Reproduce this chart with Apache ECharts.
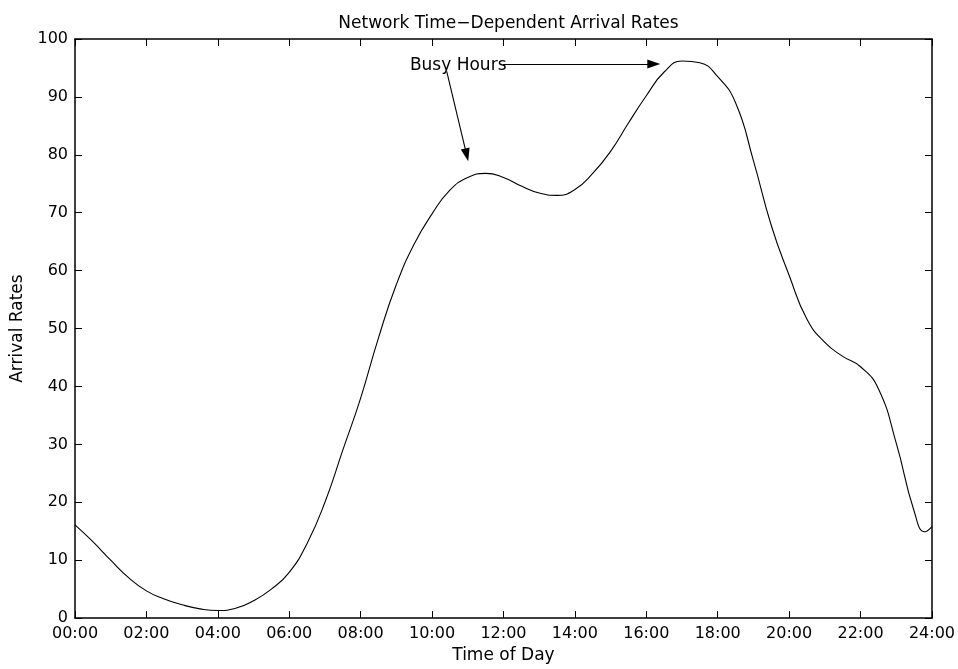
<!DOCTYPE html>
<html>
<head>
<meta charset="utf-8">
<title>Network Time-Dependent Arrival Rates</title>
<script src="https://cdn.jsdelivr.net/npm/echarts@6/dist/echarts.min.js"></script>
<style>
  html, body { margin: 0; padding: 0; background: #fff; }
  #chart { width: 958px; height: 669px; }
</style>
</head>
<body>
<div id="chart"></div>
<script>
// Hour of day (0-24) and the arrival rate observed at that hour
const hours = [0, 0.5, 1, 1.5, 2, 2.5, 3, 3.5, 4, 4.5, 5, 5.5, 6, 6.5, 7, 7.5, 8, 8.5,
  9, 9.5, 10, 10.5, 11, 11.5, 12, 12.5, 13, 13.5, 14, 14.5, 15, 15.5, 16, 16.5, 17,
  17.5, 18, 18.5, 19, 19.5, 20, 20.5, 21, 21.5, 22, 22.5, 23, 23.5, 23.8, 24];
const rates = [16.1, 13.2, 10.0, 7.0, 4.7, 3.3, 2.3, 1.6, 1.3, 1.7, 3.0, 5.0, 7.9, 12.9,
  20.0, 29.0, 38.0, 48.4, 57.6, 64.6, 69.8, 73.9, 76.1, 76.8, 76.1, 74.6, 73.4, 73.0,
  74.0, 76.8, 80.6, 85.5, 90.2, 94.3, 96.2, 95.9, 93.5, 89.0, 79.0, 67.8, 59.2, 51.6,
  47.6, 45.2, 43.4, 39.6, 30.2, 18.5, 14.9, 15.8];

// Tick labels along the time axis
const timeTicks = ['00:00', '02:00', '04:00', '06:00', '08:00', '10:00', '12:00',
  '14:00', '16:00', '18:00', '20:00', '22:00', '24:00'];

// "Busy Hours" note and the two arrows pointing at the peaks (in data units);
// each arrow ends at the centre of its arrowhead
const noteText = 'Busy Hours';
const notePoint = [9.38, 95.4];
const arrowToEvening = [[11.99, 95.7], [16.21, 95.7]];
const arrowToMidday = [[10.41, 94.4], [10.97, 80.0]];

const FONT = 'DejaVu Sans';
const chart = echarts.init(document.getElementById('chart'), null, { renderer: 'canvas' });

function frameLine() {
  return { show: true, onZero: false, lineStyle: { color: '#000', width: 1.5 } };
}
function innerTicks() {
  return { show: true, inside: true, length: 7, lineStyle: { color: '#000', width: 1 } };
}

chart.setOption({
  animation: false,
  backgroundColor: '#fff',
  title: {
    text: 'Network Time\u2212Dependent Arrival Rates',
    left: 503.5,
    textAlign: 'center',
    top: 10,
    textStyle: { fontFamily: FONT, fontSize: 17, fontWeight: 'normal', color: '#000' }
  },
  grid: { left: 75, right: 26, top: 39, bottom: 43, containLabel: false },
  xAxis: [
    {
      type: 'value', min: 0, max: 24, interval: 2, position: 'bottom',
      name: 'Time of Day', nameLocation: 'middle', nameGap: 28,
      nameTextStyle: { fontFamily: FONT, fontSize: 17, color: '#000' },
      axisLine: frameLine(), axisTick: innerTicks(), splitLine: { show: false },
      axisLabel: {
        fontFamily: FONT, fontSize: 16, color: '#000', margin: 8,
        formatter: v => timeTicks[Math.round(v / 2)]
      }
    },
    {
      type: 'value', min: 0, max: 24, interval: 2, position: 'top',
      axisLine: frameLine(), axisTick: innerTicks(), axisLabel: { show: false },
      splitLine: { show: false }
    }
  ],
  yAxis: [
    {
      type: 'value', min: 0, max: 100, interval: 10, position: 'left',
      name: 'Arrival Rates', nameLocation: 'middle', nameGap: 46, nameRotate: 90,
      nameTextStyle: { fontFamily: FONT, fontSize: 17, color: '#000' },
      axisLine: frameLine(), axisTick: innerTicks(), splitLine: { show: false },
      axisLabel: { fontFamily: FONT, fontSize: 16, color: '#000', margin: 7 }
    },
    {
      type: 'value', min: 0, max: 100, interval: 10, position: 'right',
      axisLine: frameLine(), axisTick: innerTicks(), axisLabel: { show: false },
      splitLine: { show: false }
    }
  ],
  series: [
    {
      type: 'line',
      data: hours.map((h, i) => [h, rates[i]]),
      smooth: 0.5,
      showSymbol: false,
      symbol: 'none',
      silent: true,
      lineStyle: { color: '#000', width: 1.1 },
      markLine: {
        silent: true,
        symbol: ['none', 'triangle'],
        symbolSize: [9, 13],
        label: { show: false },
        lineStyle: { color: '#000', width: 1.1, type: 'solid' },
        emphasis: { disabled: true },
        data: [
          [{ coord: arrowToEvening[0] }, { coord: arrowToEvening[1] }],
          [{ coord: arrowToMidday[0] }, { coord: arrowToMidday[1] }]
        ]
      },
      markPoint: {
        silent: true,
        symbol: 'circle',
        symbolSize: 0,
        itemStyle: { color: 'rgba(0,0,0,0)' },
        label: {
          show: true, position: 'right', distance: 0,
          formatter: noteText,
          fontFamily: FONT, fontSize: 17, color: '#000'
        },
        emphasis: { disabled: true },
        data: [{ coord: notePoint }]
      }
    }
  ]
});
</script>
</body>
</html>
